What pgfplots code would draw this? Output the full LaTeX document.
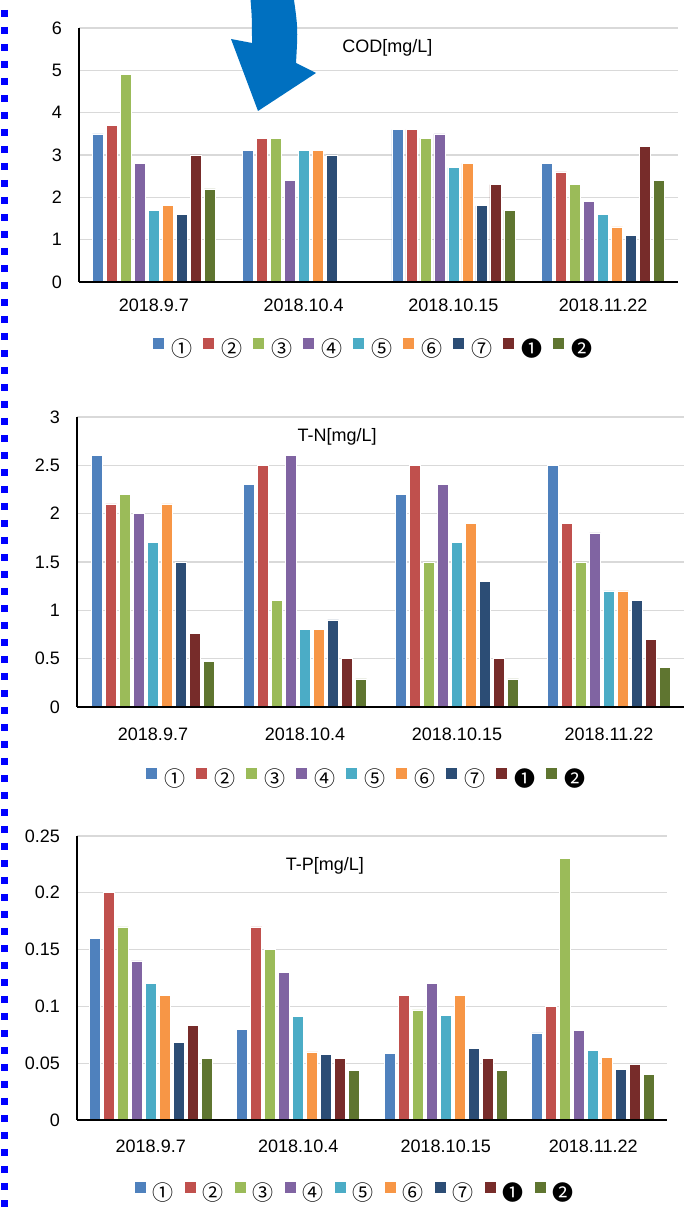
\documentclass[border=0pt]{standalone}
\usepackage{fontspec}
\setmainfont{Liberation Sans}
\newfontfamily\sym{Noto Sans CJK JP}
\usepackage{pgfplots}
\usepackage{pgfplotstable}
\pgfplotsset{compat=1.18}

\definecolor{c1}{HTML}{4F81BD}
\definecolor{c2}{HTML}{C0504D}
\definecolor{c3}{HTML}{9BBB59}
\definecolor{c4}{HTML}{8064A2}
\definecolor{c5}{HTML}{4BACC6}
\definecolor{c6}{HTML}{F79646}
\definecolor{c7}{HTML}{2C4D75}
\definecolor{c8}{HTML}{772C2A}
\definecolor{c9}{HTML}{5F7530}
\definecolor{gridc}{HTML}{D9D9D9}
\definecolor{arrowc}{HTML}{0070C0}

\pgfplotstableread{
x s1 s2 s3 s4 s5 s6 s7 s8 s9
0 3.5 3.7 4.9 2.8 1.7 1.8 1.6 3.0 2.2
1 3.1 3.4 3.4 2.4 3.1 3.1 3.0 nan nan
2 3.6 3.6 3.4 3.5 2.7 2.8 1.8 2.3 1.7
3 2.8 2.6 2.3 1.9 1.6 1.3 1.1 3.2 2.4
}\cod

\pgfplotstableread{
x s1 s2 s3 s4 s5 s6 s7 s8 s9
0 2.6 2.1 2.2 2.0 1.7 2.1 1.5 0.76 0.47
1 2.3 2.5 1.1 2.6 0.8 0.8 0.9 0.5 0.29
2 2.2 2.5 1.5 2.3 1.7 1.9 1.3 0.5 0.29
3 2.5 1.9 1.5 1.8 1.2 1.2 1.1 0.7 0.41
}\tn

\pgfplotstableread{
x s1 s2 s3 s4 s5 s6 s7 s8 s9
0 0.16 0.20 0.17 0.14 0.12 0.11 0.068 0.083 0.054
1 0.080 0.17 0.15 0.13 0.091 0.060 0.0575 0.054 0.0434
2 0.0587 0.11 0.097 0.12 0.092 0.11 0.063 0.054 0.0434
3 0.0766 0.10 0.23 0.079 0.061 0.055 0.0445 0.0487 0.040
}\tp

\newcommand{\fs}{\fontsize{18}{18}\selectfont}
\newcommand{\lf}{\sym\fontsize{21}{21}\selectfont}

\pgfplotsset{
  mychart/.style={
    scale only axis,
    ybar=3pt, bar width=11pt,
    xmin=-0.5, xmax=3.5, ymin=0,
    xtick={0,1,2,3},
    xticklabels={2018.9.7,2018.10.4,2018.10.15,2018.11.22},
    axis lines*=left,
    axis line style={-, black, line width=1.2pt},
    major tick length=0pt,
    ymajorgrids, grid style={draw=gridc, line width=1.2pt},
    /pgf/number format/assume math mode=true,
    scaled y ticks=false,
    yticklabel style={font=\fs, inner sep=0pt, anchor=east, xshift=-17pt},
    xticklabel style={font=\fs, inner sep=0pt, anchor=north},
    legend columns=9,
    legend style={draw=none, fill=none, font=\lf, inner sep=0pt,
      nodes={inner sep=0pt},
      /tikz/every even column/.append style={column sep=11pt},
      /tikz/every odd column/.append style={column sep=7pt}},
    legend image code/.code={\fill[##1,draw=none] (0pt,0pt) rectangle (11pt,11pt);},
    every axis plot/.append style={draw=white, line width=0.6pt},
    clip=false,
  },
}

\begin{document}
\begin{tikzpicture}[x=1pt,y=1pt]
\useasboundingbox (0,0) rectangle (684,1213);

% ---------- COD ----------
\begin{axis}[mychart, at={(79pt,931pt)}, anchor=south west,
  width=599pt, height=254pt, ymax=6, ytick={0,1,2,3,4,5,6},
  xticklabel style={yshift=-17pt},
  legend style={at={(0.49,0)}, anchor=center, yshift=-66pt}]
\addplot[fill=c1] table[x=x,y=s1]{\cod};
\addplot[fill=c2] table[x=x,y=s2]{\cod};
\addplot[fill=c3] table[x=x,y=s3]{\cod};
\addplot[fill=c4] table[x=x,y=s4]{\cod};
\addplot[fill=c5] table[x=x,y=s5]{\cod};
\addplot[fill=c6] table[x=x,y=s6]{\cod};
\addplot[fill=c7] table[x=x,y=s7]{\cod};
\addplot[fill=c8] table[x=x,y=s8]{\cod};
\addplot[fill=c9] table[x=x,y=s9]{\cod};
\legend{①,②,③,④,⑤,⑥,⑦,❶,❷}
\node[font=\fs] at (rel axis cs:0.515,0.921) {COD[mg/L]};
\draw[black, line width=1.2pt] (rel axis cs:0,0) -- (rel axis cs:1,0);
\end{axis}

% ---------- T-N ----------
\begin{axis}[mychart, at={(77pt,506pt)}, anchor=south west,
  width=608pt, height=290pt, ymax=3, ytick={0,0.5,1,1.5,2,2.5,3},
  xticklabel style={yshift=-21pt},
  legend style={at={(0.475,0)}, anchor=center, yshift=-71pt}]
\addplot[fill=c1] table[x=x,y=s1]{\tn};
\addplot[fill=c2] table[x=x,y=s2]{\tn};
\addplot[fill=c3] table[x=x,y=s3]{\tn};
\addplot[fill=c4] table[x=x,y=s4]{\tn};
\addplot[fill=c5] table[x=x,y=s5]{\tn};
\addplot[fill=c6] table[x=x,y=s6]{\tn};
\addplot[fill=c7] table[x=x,y=s7]{\tn};
\addplot[fill=c8] table[x=x,y=s8]{\tn};
\addplot[fill=c9] table[x=x,y=s9]{\tn};
\legend{①,②,③,④,⑤,⑥,⑦,❶,❷}
\node[font=\fs] at (rel axis cs:0.428,0.931) {T-N[mg/L]};
\draw[black, line width=1.2pt] (rel axis cs:0,0) -- (rel axis cs:1,0);
\end{axis}

% ---------- T-P ----------
\begin{axis}[mychart, at={(77pt,93pt)}, anchor=south west,
  width=590pt, height=284pt, ymax=0.25, ytick={0,0.05,0.1,0.15,0.2,0.25},
  yticklabel style={/pgf/number format/fixed, /pgf/number format/precision=2},
  xticklabel style={yshift=-20pt},
  legend style={at={(0.47,0)}, anchor=center, yshift=-72pt}]
\addplot[fill=c1] table[x=x,y=s1]{\tp};
\addplot[fill=c2] table[x=x,y=s2]{\tp};
\addplot[fill=c3] table[x=x,y=s3]{\tp};
\addplot[fill=c4] table[x=x,y=s4]{\tp};
\addplot[fill=c5] table[x=x,y=s5]{\tp};
\addplot[fill=c6] table[x=x,y=s6]{\tp};
\addplot[fill=c7] table[x=x,y=s7]{\tp};
\addplot[fill=c8] table[x=x,y=s8]{\tp};
\addplot[fill=c9] table[x=x,y=s9]{\tp};
\legend{①,②,③,④,⑤,⑥,⑦,❶,❷}
\node[font=\fs] at (rel axis cs:0.42,0.894) {T-P[mg/L]};
\draw[black, line width=1.2pt] (rel axis cs:0,0) -- (rel axis cs:1,0);
\end{axis}

% ---------- annotations ----------
\draw[color=blue, line width=7pt, dash pattern=on 7pt off 10pt] (4.5,1220) -- (4.5,0);
\fill[arrowc] (250,1220) .. controls (252,1195) .. (252,1170) -- (231,1174) -- (258,1102)
  -- (316,1140) -- (296,1150) .. controls (298,1185) .. (293,1220) -- cycle;
\end{tikzpicture}
\end{document}
